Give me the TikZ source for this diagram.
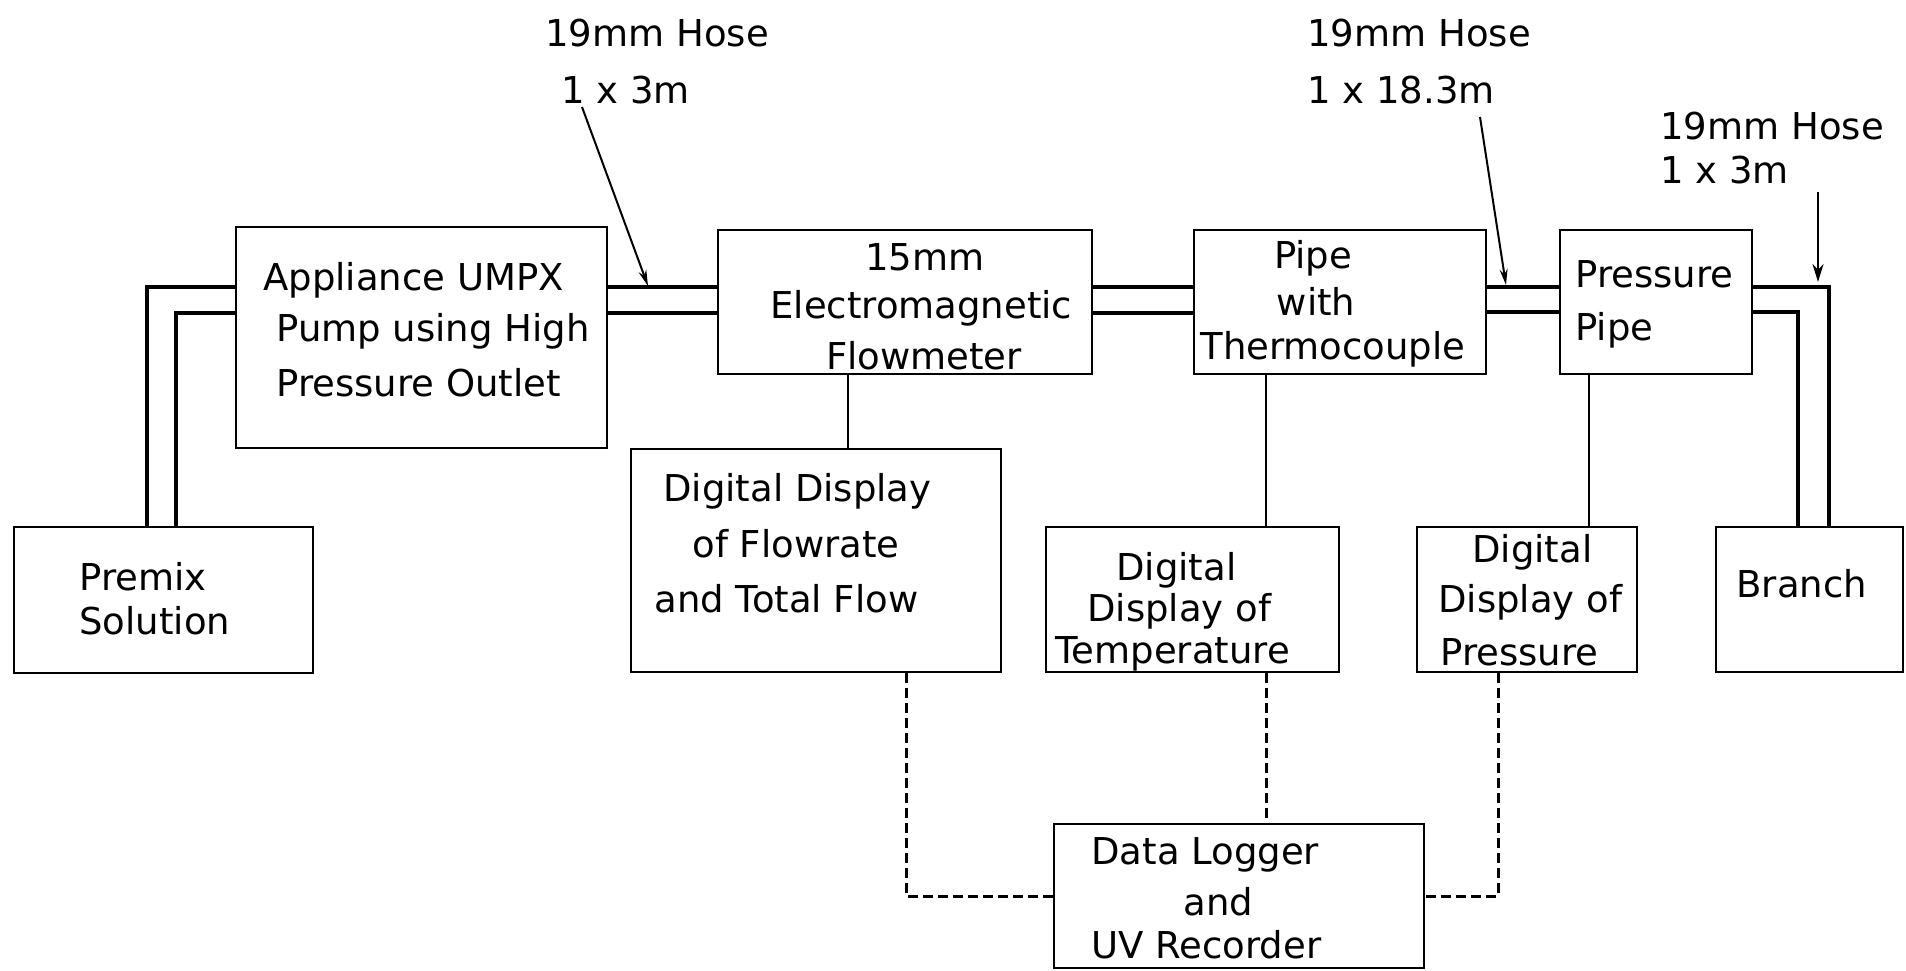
\documentclass[tikz,border=0pt]{standalone}
\usepackage{fontspec}
\setmainfont{DejaVu Sans}
\usetikzlibrary{fit,arrows.meta}
\begin{document}
\begin{tikzpicture}[x=0.5pt,y=-0.5pt,
  box/.style={draw, line width=1.1pt, inner sep=0pt},
  txt/.style={inner sep=0pt, anchor=base west, yshift=-1.8pt, font=\fontsize{18.5}{22}\selectfont},
  ctxt/.style={txt, anchor=base},
  pipe/.style={line width=1.8pt},
  link/.style={line width=1.1pt},
  signal/.style={line width=1.5pt, dash pattern=on 5pt off 2.5pt},
  lead/.style={line width=1pt, -{Stealth[length=8pt,width=4pt]}},
  bigtip/.style={line width=1.2pt, -{Stealth[length=9pt,width=5.5pt]}}]
\useasboundingbox (0,0) rectangle (1906,970);

% boxes
\node[box, fit={(14,527)(313,673)}] (premix) {};
\node[box, fit={(236,227)(607,448)}] (pump) {};
\node[box, fit={(718,230)(1092,374)}] (flow) {};
\node[box, fit={(631,449)(1001,672)}] (dflow) {};
\node[box, fit={(1194,230)(1486,374)}] (thermo) {};
\node[box, fit={(1046,527)(1339,672)}] (temp) {};
\node[box, fit={(1560,230)(1752,374)}] (press) {};
\node[box, fit={(1417,527)(1637,672)}] (dpress) {};
\node[box, fit={(1716,527)(1903,672)}] (branch) {};
\node[box, fit={(1054,824)(1424,968)}] (logger) {};

% texts
\node[txt] (t1) at (79,587) {Premix};
\node[txt] (t2) at (79,631) {Solution};
\node[txt] (t3) at (263,287) {Appliance UMPX};
\node[txt] (t4) at (276,338) {Pump using High};
\node[txt] (t5) at (276,393) {Pressure Outlet};
\node[ctxt] (t6) at (925,267) {15mm};
\node[txt] (t7) at (770,315) {Electromagnetic};
\node[ctxt] (t8) at (924,366) {Flowmeter};
\node[txt] (t9) at (663,498) {Digital Display};
\node[txt] (t10) at (692,554) {of Flowrate};
\node[txt] (t11) at (654,609) {and Total Flow};
\node[ctxt] (t12) at (1313,265) {Pipe};
\node[ctxt] (t13) at (1316,312) {with};
\node[txt] (t14) at (1200,356) {Thermocouple};
\node[txt] (t15) at (1116,577) {Digital};
\node[txt] (t16) at (1087,618) {Display of};
\node[txt] (t17) at (1055,660) {Temperature};
\node[txt] (t18) at (1575,284) {Pressure};
\node[txt] (t19) at (1575,337) {Pipe};
\node[txt] (t20) at (1472,559) {Digital};
\node[txt] (t21) at (1438,609) {Display of};
\node[txt] (t22) at (1440,662) {Pressure};
\node[txt] (t23) at (1736,594) {Branch};
\node[txt] (t24) at (1091,861) {Data Logger};
\node[txt] (t25) at (1183,912) {and};
\node[txt] (t26) at (1091,955) {UV Recorder};
\node[txt] (h1a) at (545,43) {19mm Hose};
\node[txt] (h1b) at (561,100) {1 x 3m};
\node[txt] (h2a) at (1307,43) {19mm Hose};
\node[txt] (h2b) at (1307,100) {1 x 18.3m};
\node[txt] (h3a) at (1660,136) {19mm Hose};
\node[txt] (h3b) at (1660,180) {1 x 3m};

% hoses / pipes
\draw[pipe] (pump.west |- 0,287) -| (premix.north -| 147,0);
\draw[pipe] (pump.west |- 0,313) -| (premix.north -| 176,0);
\draw[pipe] (pump.east |- 0,287) -- (flow.west |- 0,287);
\draw[pipe] (pump.east |- 0,313) -- (flow.west |- 0,313);
\draw[pipe] (flow.east |- 0,287) -- (thermo.west |- 0,287);
\draw[pipe] (flow.east |- 0,313) -- (thermo.west |- 0,313);
\draw[pipe] (thermo.east |- 0,287) -- (press.west |- 0,287);
\draw[pipe] (thermo.east |- 0,312) -- (press.west |- 0,312);
\draw[pipe] (press.east |- 0,287) -| (branch.north -| 1829,0);
\draw[pipe] (press.east |- 0,312) -| (branch.north -| 1798,0);

% instrument links
\draw[link] (flow.south -| 848,0) -- (dflow.north -| 848,0);
\draw[link] (thermo.south -| 1266,0) -- (temp.north -| 1266,0);
\draw[link] (press.south -| 1589,0) -- (dpress.north -| 1589,0);

% signal lines
\draw[signal] (dflow.south -| 906,0) |- (logger.west);
\draw[signal] (temp.south -| 1266,0) -- (logger.north -| 1266,0);
\draw[signal] (dpress.south -| 1498,0) |- (logger.east);

% leaders
\coordinate (a1s) at (582,107); \coordinate (a1e) at (648,286);
\coordinate (a2s) at (1480,117); \coordinate (a2e) at (1506,285);
\coordinate (a3s) at (1818,192); \coordinate (a3e) at (1818,282);
\draw[lead] (a1s) -- (a1e);
\draw[lead] (a2s) -- (a2e);
\draw[bigtip] (a3s) -- (a3e);
\end{tikzpicture}
\end{document}
